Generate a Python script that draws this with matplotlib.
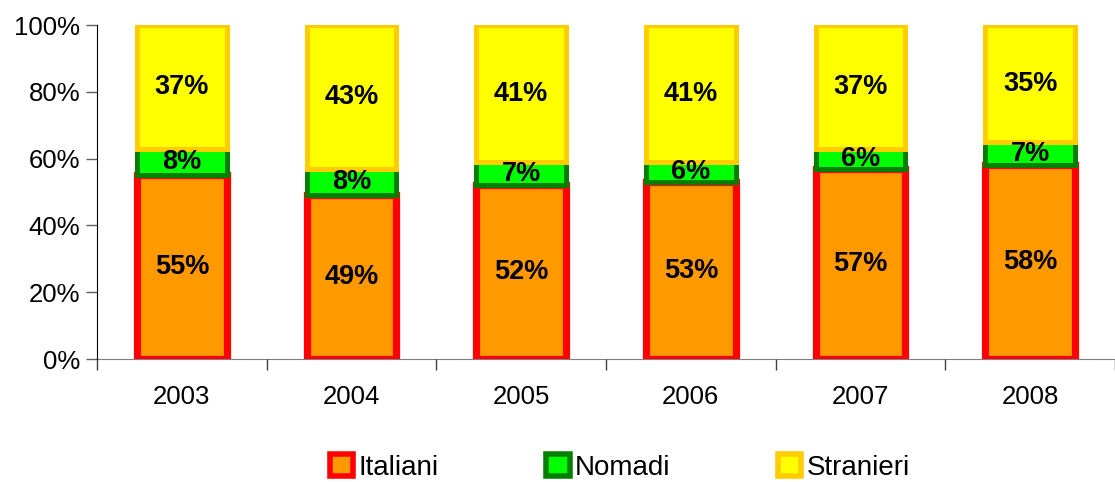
import matplotlib
matplotlib.use("Agg")
import matplotlib.pyplot as plt
from matplotlib.patches import Patch
import numpy as np

years = ["2003", "2004", "2005", "2006", "2007", "2008"]
italiani = [55, 49, 52, 53, 57, 58]
nomadi = [8, 8, 7, 6, 6, 7]
stranieri = [37, 43, 41, 41, 37, 35]
series_names = ["Italiani", "Nomadi", "Stranieri"]
yticks = [0, 20, 40, 60, 80, 100]

plt.rcParams['font.family'] = ['Liberation Sans', 'DejaVu Sans']

fig = plt.figure(figsize=(11.15, 4.82), dpi=100)
ax = fig.add_axes([0.087, 0.255, 0.913, 0.693])

x = np.arange(len(years))
w = 0.53
styles = [
    dict(facecolor="#FF9900", edgecolor="#FF0000", linewidth=5.2),
    dict(facecolor="#00FF00", edgecolor="#008000", linewidth=3.6),
    dict(facecolor="#FFFF00", edgecolor="#FFCC00", linewidth=3.6),
]
bottom = np.zeros(len(years))
for vals, st, z in zip([italiani, nomadi, stranieri], styles, [2, 3, 4]):
    v = np.array(vals, dtype=float)
    ax.bar(x, v, w, bottom=bottom, zorder=z, **st)
    for xi, b, h in zip(x, bottom, v):
        ax.text(xi, b + h / 2, f"{int(h)}%", ha="center", va="center",
                fontsize=19.5, fontweight="bold", zorder=10)
    bottom += v

ax.set_xlim(-0.5, len(years) - 0.5)
ax.set_ylim(0, 100)
ax.set_yticks(yticks)
ax.set_yticklabels([f"{t}%" for t in yticks], fontsize=18.5)
ax.set_xticks(x)
ax.set_xticklabels(years, fontsize=18.5)
ax.set_xticks(np.arange(-0.5, len(years) + 0.5, 1), minor=True)
ax.tick_params(axis="x", which="major", length=0, pad=19)
ax.tick_params(axis="x", which="minor", length=8, color="#404040", width=1)
ax.tick_params(axis="y", length=8, color="#606060", width=1, pad=4)
ax.spines["top"].set_visible(False)
ax.spines["right"].set_visible(False)
ax.spines["left"].set_color("black")
ax.spines["bottom"].set_color("#808080")
ax.spines["bottom"].set_zorder(1)

handles = [Patch(facecolor=s["facecolor"], edgecolor=s["edgecolor"], linewidth=4)
           for s in styles]
fig.legend(handles, series_names, loc="center", bbox_to_anchor=(0.556, 0.03),
           ncol=3, frameon=False, fontsize=20, handlelength=0.85, handleheight=0.85,
           handletextpad=0.2, columnspacing=3.85, borderaxespad=0)

fig.savefig("out.png", dpi=100)
